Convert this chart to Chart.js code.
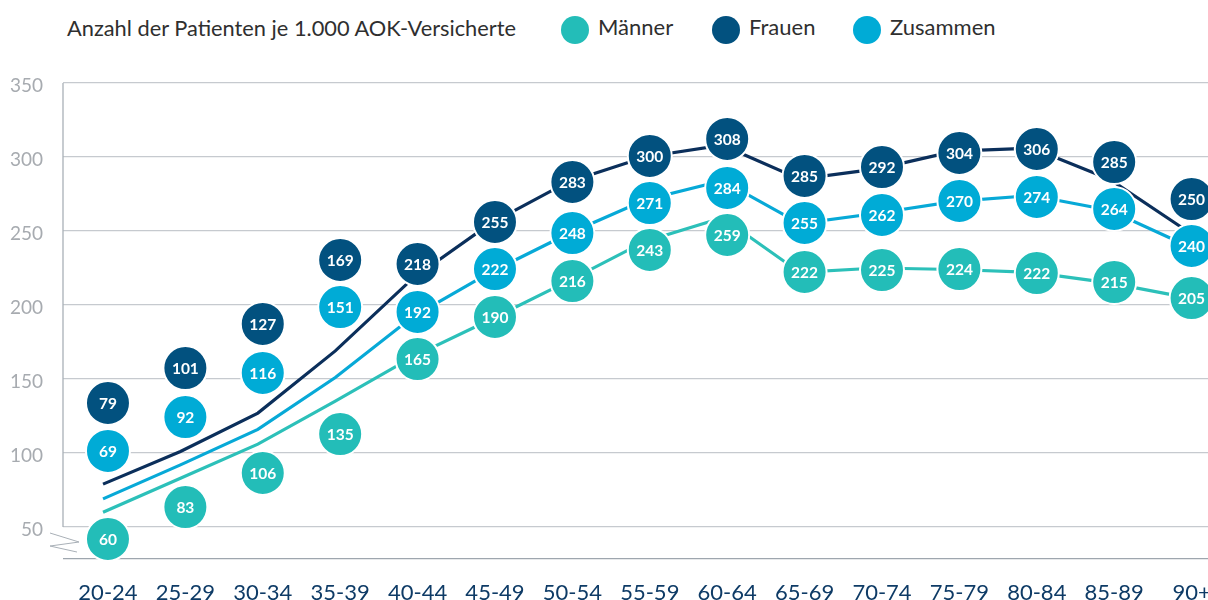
<!DOCTYPE html>
<html lang="de">
<head>
<meta charset="UTF-8">
<title>Patienten je 1.000 AOK-Versicherte</title>
<script src="https://cdn.jsdelivr.net/npm/chart.js@4.4.0/dist/chart.umd.min.js"></script>
<style>
    body {
        margin: 0;
        background: #fff;
        font-family: 'Lato', sans-serif;
        overflow: hidden;
        width: 1208px;
        height: 600px;
        position: relative;
    }

    /* header: title + legend */
    .title {
        position: absolute;
        left: 67px;
        top: 14px;
        font-size: 21.8px;
        color: #2f2f2f;
        white-space: nowrap;
    }
    .legend-item {
        position: absolute;
        top: 16px;
        height: 28px;
        line-height: 28px;
        font-size: 22px;
        color: #2f2f2f;
        white-space: nowrap;
    }
    .legend-item .dot {
        position: absolute;
        left: 0;
        top: 0;
        width: 28px;
        height: 28px;
        border-radius: 50%;
    }
    .legend-item span.txt {
        position: absolute;
        left: 37px;
        top: -3px;
    }

    #chart {
        position: absolute;
        left: 0;
        top: 0;
    }
</style>
</head>
<body>

<div class="title">Anzahl der Patienten je 1.000 AOK-Versicherte</div>
<div id="legend"></div>

<canvas id="chart" width="1208" height="600"></canvas>

<script>
    // Age groups (x axis)
    const ageGroups = ['20-24', '25-29', '30-34', '35-39', '40-44', '45-49', '50-54',
        '55-59', '60-64', '65-69', '70-74', '75-79', '80-84', '85-89', '90+'];

    // Patients per 1.000 insured
    const maenner  = [60, 83, 106, 135, 165, 190, 216, 243, 259, 222, 225, 224, 222, 215, 205];
    const frauen   = [79, 101, 127, 169, 218, 255, 283, 300, 308, 285, 292, 304, 306, 285, 250];
    const zusammen = [69, 92, 116, 151, 192, 222, 248, 271, 284, 255, 262, 270, 274, 264, 240];

    // Where the value bubbles sit (in axis units)
    const maennerBubble  = [41.9, 63.5, 86.5, 112.8, 163.5, 191.9, 216.2, 237.2, 247.3, 222.3, 223.6, 224.3, 221.6, 215.5, 204.7];
    const frauenBubble   = [133.8, 157.4, 187.2, 230.4, 227.7, 256.1, 283.1, 300.7, 312.2, 287.2, 293.2, 302.7, 305.4, 296.6, 271.6];
    const zusammenBubble = [101.4, 124.3, 154.1, 198.6, 195.3, 224.3, 248.6, 268.9, 279.1, 255.4, 260.8, 270.3, 273.0, 264.9, 239.9];

    // y axis ticks
    const yTicks = [50, 100, 150, 200, 250, 300, 350];

    const seriesNames = ['Männer', 'Frauen', 'Zusammen'];
    const bubbleColors = ['#23bdb8', '#02517f', '#00abd6'];
    const lineColors = ['#2cc0b9', '#0b2f5b', '#07a9d7'];

    // legend
    const legendX = [561, 712, 853];
    const legendBox = document.getElementById('legend');
    seriesNames.forEach((name, i) => {
        const item = document.createElement('div');
        item.className = 'legend-item';
        item.style.left = legendX[i] + 'px';
        item.innerHTML = '<div class="dot" style="background:' + bubbleColors[i] + '"></div><span class="txt">' + name + '</span>';
        legendBox.appendChild(item);
    });

    const Y_MIN = 28.4;

    function toPoints(arr) {
        return arr.map((v, i) => ({ x: i, y: v }));
    }

    function lineSet(label, arr, color) {
        return {
            label: label,
            data: toPoints(arr),
            xAxisID: 'xl',
            borderColor: color,
            borderWidth: 3.2,
            pointRadius: 0,
            pointHoverRadius: 0,
            fill: false,
            tension: 0,
            order: 10,
            clip: false
        };
    }

    function bubbleSet(label, arr, values, color, order) {
        return {
            label: label,
            data: toPoints(arr),
            values: values,
            showLine: false,
            xAxisID: 'x',
            pointRadius: 22,
            pointHoverRadius: 22,
            pointBackgroundColor: color,
            pointBorderColor: '#ffffff',
            pointBorderWidth: 2,
            borderColor: '#ffffff',
            order: order,
            clip: false
        };
    }

    // axis line, break mark and bubble texts
    const decorations = {
        id: 'decorations',
        beforeDatasetsDraw(chart) {
            const ctx = chart.ctx;
            const area = chart.chartArea;
            const y = chart.scales.y;
            ctx.save();
            ctx.strokeStyle = '#a9b0b7';
            ctx.lineWidth = 1.3;
            ctx.beginPath();
            ctx.moveTo(area.left, y.getPixelForValue(350));
            ctx.lineTo(area.left, y.getPixelForValue(50));
            ctx.stroke();

            const y50 = y.getPixelForValue(50);
            ctx.lineWidth = 1;
            ctx.beginPath();
            ctx.moveTo(area.left - 13, y50 + 6);
            ctx.lineTo(area.left + 16, y50 + 15);
            ctx.lineTo(area.left - 13, y50 + 19);
            ctx.lineTo(area.left + 14, y50 + 25);
            ctx.stroke();
            ctx.restore();
        },
        afterDatasetsDraw(chart) {
            const ctx = chart.ctx;
            ctx.save();
            ctx.fillStyle = '#ffffff';
            ctx.font = 'bold 15.5px Lato';
            ctx.textAlign = 'center';
            ctx.textBaseline = 'middle';
            chart.data.datasets.forEach((ds, di) => {
                if (!ds.values) return;
                chart.getDatasetMeta(di).data.forEach((pt, i) => {
                    ctx.fillText(String(ds.values[i]), pt.x, pt.y + 1);
                });
            });
            ctx.restore();
        }
    };

    new Chart(document.getElementById('chart'), {
        type: 'line',
        data: {
            datasets: [
                lineSet('Frauen', frauen, lineColors[1]),
                lineSet('Zusammen', zusammen, lineColors[2]),
                lineSet('Männer', maenner, lineColors[0]),
                bubbleSet('Männer', maennerBubble, maenner, bubbleColors[0], 3),
                bubbleSet('Frauen', frauenBubble, frauen, bubbleColors[1], 2),
                bubbleSet('Zusammen', zusammenBubble, zusammen, bubbleColors[2], 1)
            ]
        },
        options: {
            responsive: false,
            animation: false,
            events: [],
            layout: {
                autoPadding: false,
                padding: { top: 83, right: 0, left: 0, bottom: 0 }
            },
            plugins: {
                legend: { display: false },
                tooltip: { enabled: false }
            },
            scales: {
                x: {
                    type: 'linear',
                    min: -0.581,
                    max: 14.212,
                    afterBuildTicks: (s) => { s.ticks = ageGroups.map((g, i) => ({ value: i })); },
                    afterFit: (s) => { s.height = 41; s.paddingLeft = 0; s.paddingRight = 0; },
                    grid: { display: false, drawTicks: false },
                    border: { display: false },
                    ticks: {
                        autoSkip: false,
                        maxRotation: 0,
                        padding: 21,
                        color: '#0e3b66',
                        font: { family: 'Lato', size: 22 },
                        callback: (v) => ageGroups[v]
                    }
                },
                xl: {
                    type: 'linear',
                    display: false,
                    min: -0.517,
                    max: 14.271
                },
                y: {
                    min: Y_MIN,
                    max: 350,
                    afterBuildTicks: (s) => { s.ticks = [{ value: Y_MIN }].concat(yTicks.map(v => ({ value: v }))); },
                    afterFit: (s) => { s.width = 63; s.paddingTop = 0; s.paddingBottom = 0; },
                    grid: {
                        drawTicks: false,
                        lineWidth: 1.3,
                        color: (c) => (c.tick && c.tick.value < 50 ? '#9ea6ae' : '#c6cacf')
                    },
                    border: { display: false },
                    ticks: {
                        padding: 20,
                        labelOffset: 3,
                        color: '#a7abb0',
                        font: { family: 'Lato', size: 19 },
                        callback: (v) => (v < 50 ? '' : v)
                    }
                }
            }
        },
        plugins: [decorations]
    });
</script>

</body>
</html>
